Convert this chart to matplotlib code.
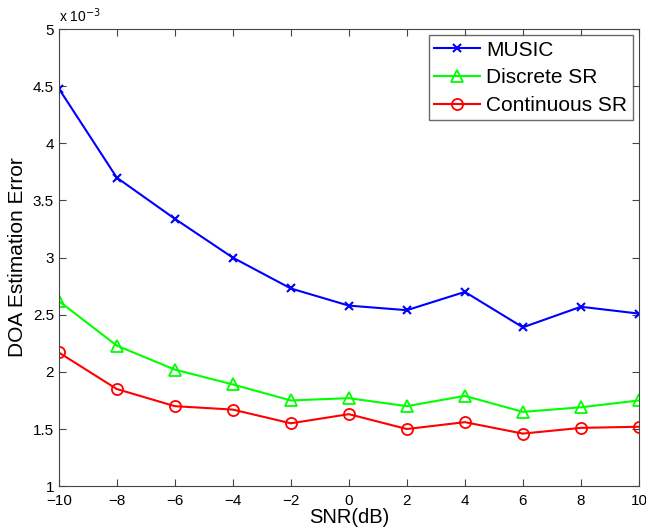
import numpy as np
import matplotlib
matplotlib.use("Agg")
from matplotlib import pyplot as plt
from matplotlib.ticker import FormatStrFormatter

plt.rcParams['font.family'] = ['Liberation Sans', 'DejaVu Sans']

snr = [-10, -8, -6, -4, -2, 0, 2, 4, 6, 8, 10]
# errors in units of 1e-3
music = [4.48, 3.70, 3.34, 3.00, 2.73, 2.58, 2.54, 2.70, 2.39, 2.57, 2.51]
discrete_sr = [2.62, 2.23, 2.02, 1.89, 1.75, 1.77, 1.70, 1.79, 1.65, 1.69, 1.75]
continuous_sr = [2.17, 1.85, 1.70, 1.67, 1.55, 1.63, 1.50, 1.56, 1.46, 1.51, 1.52]

fig = plt.figure(figsize=(6.46, 5.29), dpi=100)
ax = fig.add_axes([0.091, 0.081, 0.898, 0.864])

ax.plot(snr, music, color=(0, 0, 1), marker='x', ms=6, mew=1.5, lw=1.5, label='MUSIC')
ax.plot(snr, discrete_sr, color=(0, 1, 0), marker='^', ms=9, mfc='none', mew=1.3, lw=1.5, label='Discrete SR')
ax.plot(snr, continuous_sr, color=(1, 0, 0), marker='o', ms=8, mfc='none', mew=1.3, lw=1.5, label='Continuous SR')

ax.set_xlim(-10, 10)
ax.set_ylim(1, 5)
ax.set_xticks(np.arange(-10, 11, 2))
ax.set_yticks(np.arange(1, 5.01, 0.5))
ax.yaxis.set_major_formatter(FormatStrFormatter('%g'))
ax.tick_params(direction='in', top=True, right=True, labelsize=11, length=5, color='#444444')
ax.tick_params(axis='x', pad=6)
for s in ax.spines.values():
    s.set_color('#444444')

ax.text(0.0, 1.008, r'x 10$^{-3}$', transform=ax.transAxes, fontsize=10, va='bottom', ha='left')

ax.set_xlabel('SNR(dB)', fontsize=14.5, labelpad=0)
ax.set_ylabel('DOA Estimation Error', fontsize=15, labelpad=4)

leg = ax.legend(loc='upper right', fontsize=15, fancybox=False, edgecolor='#444444',
                handlelength=2.2, handletextpad=0.3, borderaxespad=0.3, labelspacing=0.42,
                borderpad=0.25)
leg.get_frame().set_linewidth(1.0)

plt.savefig("out.png", dpi=100)
